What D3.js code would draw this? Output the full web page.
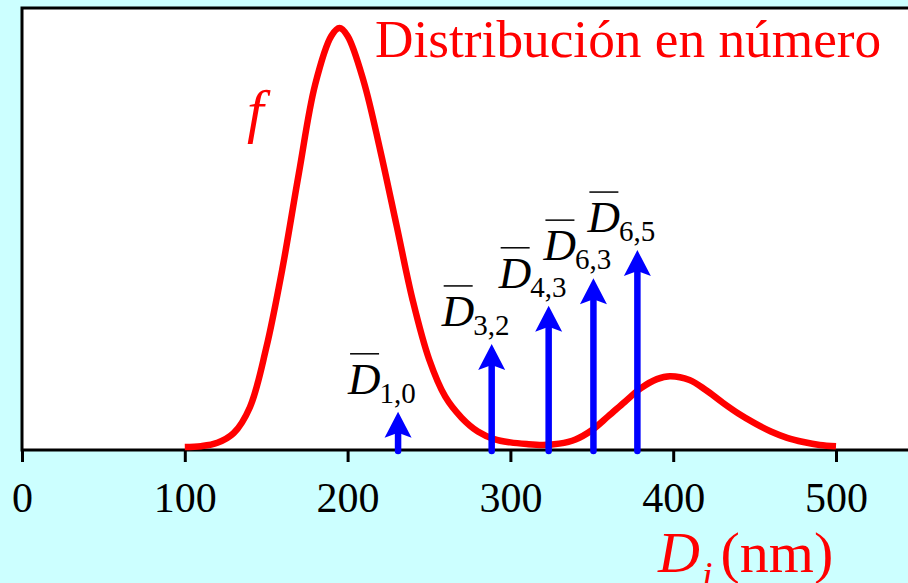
<!DOCTYPE html>
<html>
<head>
<meta charset="utf-8">
<script src="https://cdn.jsdelivr.net/npm/d3@7"></script>
<style>
  body { margin: 0; background: #ccffff; }
  svg { display: block; }
  text { font-family: "Liberation Serif", "Times New Roman", serif; }
</style>
</head>
<body>
<div id="chart"></div>
<script>
// Distribution curve (diameter in nm, relative frequency)
const diameters = [100, 110, 120, 130, 140, 150, 160, 170, 180, 190, 195, 200, 210, 220, 230, 240, 250, 260, 270, 280, 290,
                   300, 310, 320, 330, 340, 350, 360, 370, 380, 390, 398, 410, 420, 430, 440, 450, 460, 470, 480, 490, 500];
const freqs = [0, 0.002, 0.01, 0.033, 0.095, 0.236, 0.427, 0.652, 0.864, 0.981, 1.0, 0.981, 0.871, 0.709, 0.53, 0.35, 0.21, 0.12, 0.07, 0.037, 0.019,
               0.011, 0.007, 0.005, 0.008, 0.018, 0.040, 0.073, 0.107, 0.14, 0.162, 0.169, 0.16, 0.136, 0.107, 0.080, 0.057, 0.037, 0.022, 0.012, 0.005, 0.002];

// Mean diameters (arrows)
const meanLabels = ["1,0", "3,2", "4,3", "6,3", "6,5"];
const meanDiam = [231, 288.5, 323.5, 351, 378];
const meanHeight = [0.084, 0.246, 0.337, 0.403, 0.47];

const tickValues = [0, 100, 200, 300, 400, 500];

const width = 908, height = 583;

const svg = d3.select("#chart")
    .append("svg")
    .attr("width", width)
    .attr("height", height);

svg.append("rect")
    .attr("width", width)
    .attr("height", height)
    .attr("fill", "#ccffff");

const x = d3.scaleLinear().domain([0, 500]).range([22, 836]);
const y = d3.scaleLinear().domain([0, 1]).range([447, 28]);
const axisY = 450;

// plot frame
svg.append("rect")
    .attr("x", 22)
    .attr("y", 8)
    .attr("width", 920)
    .attr("height", axisY - 8)
    .attr("fill", "#fff")
    .attr("stroke", "#000")
    .attr("stroke-width", 3);

// x axis
const xAxis = svg.append("g")
    .attr("transform", `translate(0, ${axisY})`)
    .call(d3.axisBottom(x).tickValues(tickValues).tickSize(12).tickFormat(d3.format("d")));

xAxis.select(".domain").remove();
xAxis.selectAll(".tick line").attr("stroke", "#000").attr("stroke-width", 3);
xAxis.selectAll(".tick text")
    .attr("y", 62)
    .attr("dy", 0)
    .attr("fill", "#000")
    .style("font-size", "42px")
    .style("font-family", "Liberation Serif, serif");

// distribution curve
const line = d3.line()
    .x((d, i) => x(diameters[i]))
    .y(d => y(d))
    .curve(d3.curveCatmullRom);

svg.append("path")
    .datum(freqs)
    .attr("d", line)
    .attr("fill", "none")
    .attr("stroke", "#ff0000")
    .attr("stroke-width", 6.5)
    .attr("stroke-linejoin", "round");

// arrows
const arrows = svg.selectAll("g.arrow")
    .data(meanDiam)
    .enter()
    .append("g")
    .classed("arrow", true);

arrows.append("line")
    .attr("x1", d => x(d))
    .attr("x2", d => x(d))
    .attr("y1", axisY + 1)
    .attr("y2", (d, i) => y(meanHeight[i]) + 20)
    .attr("stroke", "#0000ff")
    .attr("stroke-width", 6.5)
    .attr("stroke-linecap", "round");

arrows.append("path")
    .attr("d", (d, i) => {
        const cx = x(d), ty = y(meanHeight[i]);
        return `M${cx},${ty} L${cx + 13.5},${ty + 26} L${cx},${ty + 21} L${cx - 13.5},${ty + 26} Z`;
    })
    .attr("fill", "#0000ff");

// labels D-bar with subscripts
const labels = svg.selectAll("g.lab")
    .data(meanDiam)
    .enter()
    .append("g")
    .classed("lab", true)
    .attr("transform", (d, i) => `translate(${x(d) - 50}, ${y(meanHeight[i]) - 18})`);

const lt = labels.append("text")
    .attr("fill", "#000");
lt.append("tspan")
    .style("font-style", "italic")
    .style("font-size", "45px")
    .text("D");
lt.append("tspan")
    .attr("dx", -1)
    .attr("dy", 9)
    .style("font-size", "29px")
    .text((d, i) => meanLabels[i]);

labels.append("line")
    .attr("x1", 2)
    .attr("x2", 31)
    .attr("y1", -40)
    .attr("y2", -40)
    .attr("stroke", "#000")
    .attr("stroke-width", 1.5);

// titles
svg.append("text")
    .attr("x", 375)
    .attr("y", 57)
    .attr("fill", "#ff0000")
    .style("font-size", "53.3px")
    .text("Distribución en número");

svg.append("text")
    .attr("x", 247)
    .attr("y", 131)
    .attr("fill", "#ff0000")
    .style("font-size", "60px")
    .style("font-style", "italic")
    .text("f");

const xl = svg.append("text")
    .attr("x", 658)
    .attr("y", 572)
    .attr("fill", "#ff0000")
    .style("font-size", "58px");
xl.append("tspan").style("font-style", "italic").text("D");
xl.append("tspan").style("font-style", "italic").style("font-size", "38px").attr("dx", 2).attr("dy", 16).text("i");
xl.append("tspan").attr("dy", -16).attr("dx", 8).text("(nm)");
</script>
</body>
</html>
